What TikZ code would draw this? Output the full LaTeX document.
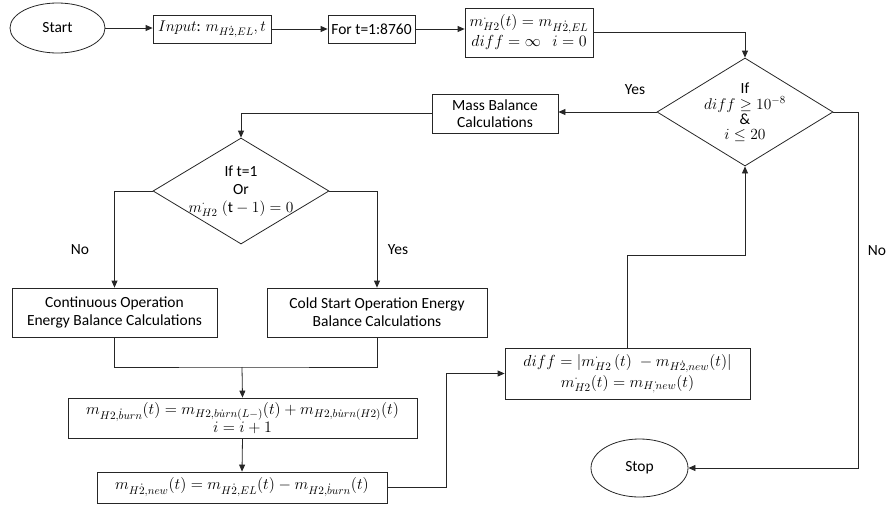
\documentclass[tikz,border=0pt]{standalone}
\usepackage{fix-cm}
\usepackage{fontspec}
\setmainfont{Carlito}
\usetikzlibrary{shapes.geometric,arrows.meta}

\begin{document}
\begin{tikzpicture}[x=1pt,y=-1pt,
  every node/.style={font=\fontsize{15.5}{18}\selectfont},
  box/.style={draw=black!85, line width=0.8pt, rectangle, inner sep=0pt, align=center},
  mathbox/.style={box, font=\fontsize{16}{19}\selectfont},
  term/.style={draw=black!85, line width=0.8pt, ellipse, inner sep=0pt},
  decision/.style={draw=black!85, line width=0.8pt, diamond, inner sep=0pt},
  flow/.style={draw=black!85, line width=0.8pt, -{Triangle[length=7pt,width=6pt]}},
  link/.style={draw=black!85, line width=0.8pt},
  every label/.style={align=center, inner sep=0pt}
]
\useasboundingbox (0,0) rectangle (887,504);

% top row
\node[term, minimum width=95, minimum height=50] (start) at (57.5,28) {Start};
\node[box, minimum width=118, minimum height=28] (input) at (212,29)
  {$Input$: $m_{H\dot{2},EL},t$};
\node[box, minimum width=87, minimum height=28] (for) at (371.5,29) {For t=1:8760};
\node[mathbox, minimum width=128, minimum height=49] (init) at (529,32.5)
  {$m^{\cdot}_{H2}(t)=m_{H\dot{2},EL}$\\[1pt] $diff=\infty\;\;\, i=0$};

% convergence test
\node[decision, minimum width=176, minimum height=108,
  label={center:{If\\[-2pt] $diff\geq 10^{-8}$\\[-3pt] \&\\[-3pt] $i\leq 20$}}] (conv) at (745,112) {};
\node[box, minimum width=126, minimum height=39] (mass) at (495,113.5)
  {Mass Balance\\[-1pt] Calculations};

% start-up test
\node[decision, minimum width=176, minimum height=106,
  label={center:{If t=1\\ Or\\ $m^{\cdot}_{H2}\;(\mathrm{t}-1)=0$}}] (cold?) at (241,191) {};
\node[box, minimum width=205, minimum height=49] (cont) at (114.5,312.5)
  {Continuous Operation\\ Energy Balance Calculations};
\node[box, minimum width=220, minimum height=49] (cold) at (377,312.5)
  {Cold Start Operation Energy\\ Balance Calculations};

% hydrogen burn and update
\node[mathbox, minimum width=349, minimum height=40] (burn) at (242.5,418)
  {$m_{H2,\dot{b}urn}(t)=m_{H2,b\dot{u}rn(L-)}(t)+m_{H2,b\dot{u}rn(H2)}(t)$\\[-1pt] $i=i+1$};
\node[mathbox, minimum width=290, minimum height=31] (new) at (242,487.5)
  {$m_{H\dot{2},new}(t)=m_{H\dot{2},EL}(t)-m_{H2,\dot{b}urn}(t)$};
\node[mathbox, minimum width=245, minimum height=51] (diff) at (627.5,373.5)
  {$diff=|m^{\cdot}_{H2}\,(t)\;-m_{H\dot{2},new}(t)|$\\[2pt] $m^{\cdot}_{H2}(t)=m_{H_{,}\dot{}new}(t)$};
\node[term, minimum width=97, minimum height=58] (stop) at (639.5,468) {Stop};

% branch labels
\node (yes1) at (635,90) {Yes};
\node (no1) at (877,251) {No};
\node (no2) at (80,250) {No};
\node (yes2) at (398,250) {Yes};

% helper points
\coordinate (rightrail) at (858,112);
\coordinate (join) at (242,367);
\coordinate (riser) at (446,487.5);
\coordinate (back) at (627.5,255);

% connectors
\path[flow] (start.east) -- (start.east -| input.west);
\path[flow] (input.east) -- (for.west);
\path[flow] (for.east) -- (for.east -| init.west);
\path[flow] (init.east) -| (conv.north);
\path[flow] (conv.west) -- (conv.west -| mass.east);
\path[flow] (conv.east) -- (rightrail) |- (stop.east);
\path[flow] (mass.west) -| (cold?.north);
\path[flow] (cold?.west) -| (cont.north);
\path[flow] (cold?.east) -| (cold.north);
\path[link] (cont.south) |- (join) -| (cold.south);
\path[flow] (join) -- (burn.north);
\path[flow] (burn.south) -- (new.north);
\path[flow] (new.east) -- (riser) |- (diff.west);
\path[flow] (diff.north) -- (back) -| (conv.south);
\end{tikzpicture}
\end{document}
